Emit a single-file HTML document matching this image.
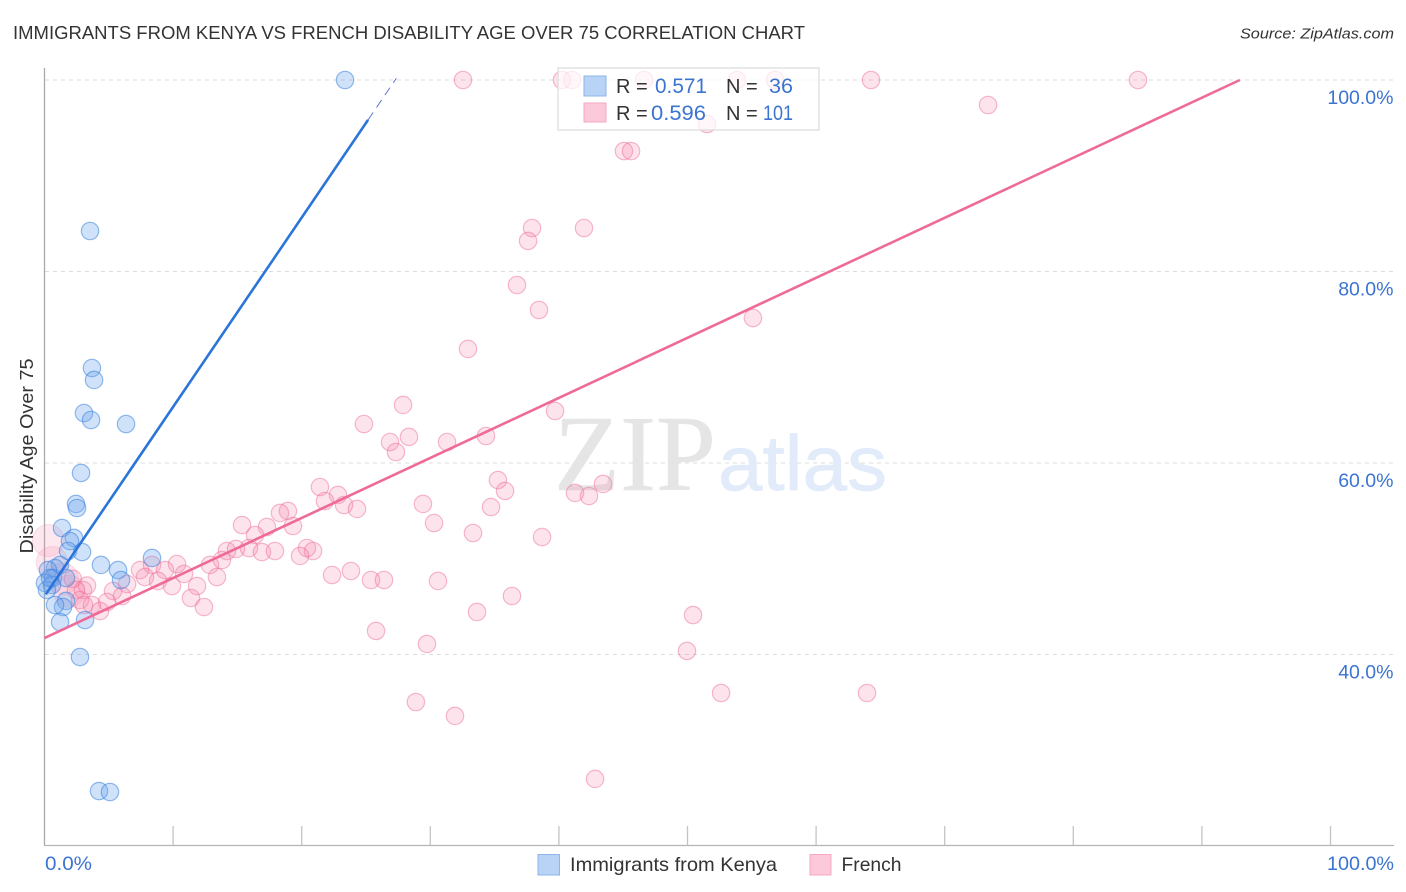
<!DOCTYPE html>
<html>
<head>
<meta charset="utf-8">
<title>Immigrants from Kenya vs French Disability Age Over 75 Correlation Chart</title>
<style>
html,body{margin:0;padding:0;background:#fff;}
svg{display:block;font-family:"Liberation Sans",sans-serif;}
</style>
</head>
<body>
<svg id="chart" width="1406" height="892" viewBox="0 0 1406 892" xmlns="http://www.w3.org/2000/svg">
  <rect x="0" y="0" width="1406" height="892" fill="#ffffff"/>
  <text x="13" y="39" font-size="18.5" fill="#333333" textLength="792" lengthAdjust="spacingAndGlyphs">IMMIGRANTS FROM KENYA VS FRENCH DISABILITY AGE OVER 75 CORRELATION CHART</text>
  <text x="1394" y="38.5" font-size="15" font-style="italic" fill="#333333" text-anchor="end" textLength="154" lengthAdjust="spacingAndGlyphs">Source: ZipAtlas.com</text>
  <g id="grid"></g>
  <g>
    <text x="554" y="490" font-family="'Liberation Serif',serif" font-size="108" fill="#e5e5e5" stroke="#e5e5e5" stroke-width="0.5" textLength="162" lengthAdjust="spacingAndGlyphs">ZIP</text>
    <text x="718" y="490" font-size="78" fill="#e2ebf9" stroke="#e2ebf9" stroke-width="0.7" textLength="169" lengthAdjust="spacingAndGlyphs">atlas</text>
  </g>
  <g id="axes">
    <line x1="44.5" y1="68" x2="44.5" y2="846" stroke="#aaaaaa" stroke-width="1.3"/>
    <line x1="44" y1="845.5" x2="1394" y2="845.5" stroke="#b5b5b5" stroke-width="1.3"/>
  </g>
  <g id="french-points"></g>
  <g id="kenya-points"></g>
  <g id="trends"></g>
  <text transform="translate(33,456) rotate(-90)" font-size="18" fill="#333333" text-anchor="middle" textLength="195" lengthAdjust="spacingAndGlyphs">Disability Age Over 75</text>
  <g>
    <rect x="558" y="68" width="261" height="62" fill="#ffffff" fill-opacity="0.72" stroke="#dddddd" stroke-width="1.3"/>
    <rect x="584" y="76" width="22" height="20" fill="#b9d3f7" stroke="#8fb5ea" stroke-width="1"/>
    <rect x="584" y="103" width="22" height="19" fill="#fbc9d9" stroke="#f4a9c1" stroke-width="1"/>
    <g font-size="20">
      <text x="616" y="93" fill="#333333">R =</text>
      <text x="655" y="93" fill="#3b74d0" font-size="21" textLength="52" lengthAdjust="spacingAndGlyphs">0.571</text>
      <text x="726" y="93" fill="#333333">N =</text>
      <text x="769" y="93" fill="#3b74d0" font-size="21" textLength="24" lengthAdjust="spacingAndGlyphs">36</text>
      <text x="616" y="120" fill="#333333">R =</text>
      <text x="651" y="120" fill="#3b74d0" font-size="21" textLength="55" lengthAdjust="spacingAndGlyphs">0.596</text>
      <text x="726" y="120" fill="#333333">N =</text>
      <text x="763" y="120" fill="#3b74d0" font-size="21" textLength="30" lengthAdjust="spacingAndGlyphs">101</text>
    </g>
  </g>
  <g>
    <rect x="538" y="854.5" width="21.5" height="20.5" fill="#b9d3f7" stroke="#8fb5ea" stroke-width="1"/>
    <text x="570" y="871" font-size="19.5" fill="#333333" textLength="207" lengthAdjust="spacingAndGlyphs">Immigrants from Kenya</text>
    <rect x="810" y="854.5" width="21" height="20.5" fill="#fbc9d9" stroke="#f4a9c1" stroke-width="1"/>
    <text x="841.5" y="871" font-size="19.5" fill="#333333" textLength="60" lengthAdjust="spacingAndGlyphs">French</text>
  </g>
</svg>
<script>
const xTickValues = [10, 20, 30, 40, 50, 60, 70, 80, 90, 100];
const xEndValues = [0, 100];
const xEndLabels = ["0.0%", "100.0%"];
const yTickValues = [100, 80, 60, 40];
const yTickLabels = ["100.0%", "80.0%", "60.0%", "40.0%"];

const kenyaX = [23.37,3.54,3.69,3.85,3.07,3.62,6.34,2.84,2.45,2.53,1.36,2.29,1.98,1.83,2.92,8.36,4.39,5.72,1.21,0.82,0.27,0.66,1.67,5.95,0.04,0.58,0.19,1.67,1.44,0.82,3.15,1.21,2.76,4.24,5.09,0.43];
const kenyaY = [100,84.23,69.92,68.67,65.22,64.49,64.07,58.96,55.72,55.30,53.21,52.17,51.85,50.81,50.70,50.08,49.35,48.82,49.35,49.03,48.82,47.99,47.99,47.78,47.47,47.26,46.74,45.59,44.96,45.17,43.60,43.39,39.74,25.74,25.64,47.99];

const frenchX = [32.54,40.24,41.02,46.62,53.85,56.81,64.27,85.03,73.37,51.52,45.06,45.61,37.91,41.95,37.60,36.74,38.45,55.09,32.93,27.88,39.70,24.84,34.33,28.34,26.87,31.30,27.33,35.26,43.43,35.81,21.42,22.82,41.25,42.34,29.43,34.72,21.81,23.29,24.30,18.93,18.31,30.29,15.36,19.32,17.30,33.32,16.37,38.69,14.19,14.89,15.90,16.91,17.92,20.41,20.88,19.87,10.30,12.87,13.80,8.36,7.43,9.37,10.85,7.81,8.83,13.41,22.36,23.83,25.39,26.40,30.60,9.91,11.86,6.42,5.33,6.03,2.99,2.45,11.39,36.35,2.76,4.86,3.69,4.32,3.07,12.40,33.63,50.43,25.78,29.74,49.96,52.61,63.96,28.88,31.92,42.81,2.2,3.3];
const frenchY = [100,100,100,100,100,100,100,100,97.39,95.40,92.58,92.58,84.54,84.54,83.19,78.59,75.98,75.14,71.91,66.06,65.43,64.07,62.82,62.72,62.19,62.19,61.15,58.22,57.81,57.08,57.49,56.66,56.87,56.55,55.72,55.40,56.03,55.61,55.20,54.99,54.78,53.73,53.52,53.42,53.32,52.69,52.48,52.27,50.81,51.02,51.12,50.70,50.81,51.12,50.81,50.29,49.45,49.35,49.87,49.35,48.82,48.82,48.41,48.09,47.68,48.09,48.30,48.72,47.78,47.78,47.68,47.15,47.15,47.36,46.63,46.11,46.74,46.74,45.90,46.11,45.69,45.48,45.17,44.54,45.17,44.96,44.44,44.12,42.46,41.10,40.37,35.98,35.98,35.04,33.58,27.00,47.9,47.2];
const frenchLargeX = [0.3,1.4,0.6,1.9];
const frenchLargeY = [51.9,47.9,49.6,46.6];

const kenyaTrend = {intercept: 46.09, slope: 1.977, solidEnd: 25.16, dashEnd: 27.36};
const frenchTrend = {intercept: 41.72, slope: 0.627, solidEnd: 92.95};

const NS = "http://www.w3.org/2000/svg";
function xScale(v) { return 44.5 + v * 12.86; }
function yScale(v) { return 80 + (100 - v) * 9.575; }
function make(tag, attrs, parent) {
  const el = document.createElementNS(NS, tag);
  for (const k in attrs) el.setAttribute(k, attrs[k]);
  parent.appendChild(el);
  return el;
}

const gridG = document.getElementById("grid");
const axesG = document.getElementById("axes");
const frenchG = document.getElementById("french-points");
const kenyaG = document.getElementById("kenya-points");
const trendsG = document.getElementById("trends");

yTickValues.forEach(function (v, i) {
  const gl = make("line", {x1: 45, x2: 1394, y1: yScale(v), y2: yScale(v), stroke: "#dcdcdc", "stroke-width": 1, "stroke-dasharray": "4 4"}, gridG);
  
  
  const t = make("text", {x: 1393.5, y: yScale(v) + 24, "text-anchor": "end", "font-size": 19.5, fill: "#3b74d0"}, axesG);
  
  
  t.textContent = yTickLabels[i];
});

xTickValues.forEach(function (v) {
  const tk = make("line", {x1: xScale(v), x2: xScale(v), y1: 826, y2: 845, stroke: "#c4c4c4", "stroke-width": 1.3}, axesG);
  
  
});

xEndValues.forEach(function (v, i) {
  const t = make("text", {x: i === 0 ? xScale(v) + 0.5 : xScale(v) + 63.5, y: 870, "text-anchor": i === 0 ? "start" : "end", "font-size": 19.5, fill: "#3b74d0", textLength: i === 0 ? 47 : 67, lengthAdjust: "spacingAndGlyphs"}, axesG);
  
  
  t.textContent = xEndLabels[i];
});

frenchLargeX.forEach(function (v, i) {
  const c = make("circle", {cx: xScale(v), cy: yScale(frenchLargeY[i]), r: 16, fill: "#f58aad", "fill-opacity": 0.2, stroke: "#ec6f98", "stroke-opacity": 0.2, "stroke-width": 1}, frenchG);
  
  
});

frenchX.forEach(function (v, i) {
  const c = make("circle", {cx: xScale(v), cy: yScale(frenchY[i]), r: 8.7, fill: "#f58aad", "fill-opacity": 0.24, stroke: "#ec6f98", "stroke-opacity": 0.48, "stroke-width": 1.2}, frenchG);
  
  
});

kenyaX.forEach(function (v, i) {
  const c = make("circle", {cx: xScale(v), cy: yScale(kenyaY[i]), r: 8.7, fill: "#6ea4ec", "fill-opacity": 0.32, stroke: "#3d83de", "stroke-opacity": 0.55, "stroke-width": 1.2}, kenyaG);
  
  
});

function trendY(tr, x) { return tr.intercept + tr.slope * x; }

const fl = make("line", {x1: xScale(0), y1: yScale(trendY(frenchTrend, 0)), x2: xScale(frenchTrend.solidEnd), y2: yScale(trendY(frenchTrend, frenchTrend.solidEnd)), stroke: "#ee6a99", "stroke-width": 2.6}, trendsG);



const kl = make("line", {x1: xScale(0.1), y1: yScale(trendY(kenyaTrend, 0.1)), x2: xScale(kenyaTrend.solidEnd), y2: yScale(trendY(kenyaTrend, kenyaTrend.solidEnd)), stroke: "#2b74d8", "stroke-width": 2.6}, trendsG);



const kd = make("line", {x1: xScale(kenyaTrend.solidEnd), y1: yScale(trendY(kenyaTrend, kenyaTrend.solidEnd)), x2: xScale(kenyaTrend.dashEnd), y2: yScale(trendY(kenyaTrend, kenyaTrend.dashEnd)), stroke: "#5a78c8", "stroke-width": 1, "stroke-dasharray": "9 6"}, trendsG);


</script>
</body>
</html>
